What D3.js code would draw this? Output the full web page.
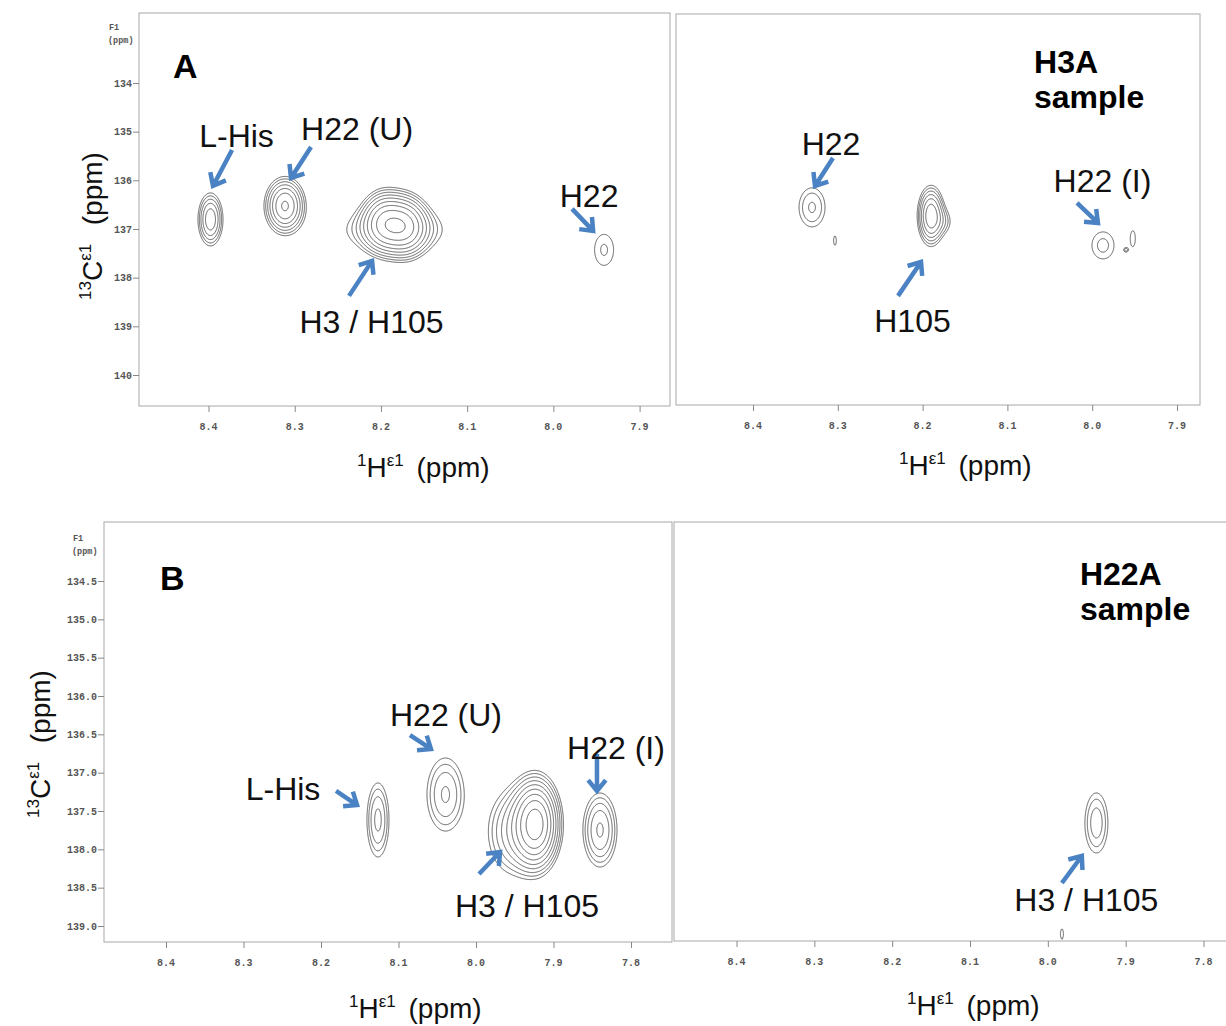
<!DOCTYPE html>
<html>
<head>
<meta charset="utf-8">
<script src="https://cdn.jsdelivr.net/npm/d3@7"></script>
<style>
html,body{margin:0;padding:0;background:#fff;}
svg{display:block;}
</style>
</head>
<body>
<svg id="chart" width="1226" height="1026"></svg>
<script>
// ---------------- DATA ----------------
// Tick labels
const xTicksA = [8.4, 8.3, 8.2, 8.1, 8.0, 7.9];
const yTicksA = [134, 135, 136, 137, 138, 139, 140];
const xTicksB = [8.4, 8.3, 8.2, 8.1, 8.0, 7.9, 7.8];
const yTicksB = [134.5, 135.0, 135.5, 136.0, 136.5, 137.0, 137.5, 138.0, 138.5, 139.0];

// Contour levels (geometric series, factor 1.3)
const contourFactor = 1.3;
const contourLevelCount = 14;

// Peaks: [1H ppm, 13C ppm, sigma 1H (ppm), sigma 13C (ppm), relative amplitude]
const peaksA1 = [
  [8.3977, 136.803, 0.00918, 0.3443, 3.486],   // L-His
  [8.3113, 136.526, 0.01356, 0.3372, 5.020],   // H22 (U)
  [8.1964, 136.854, 0.01508, 0.3696, 5.000],   // H3 / H105 component 1
  [8.1709, 136.936, 0.01508, 0.3696, 5.000],   // H3 / H105 component 2
  [8.1848, 137.018, 0.04408, 0.3285, 2.000],   // H3 / H105 shoulder
  [7.9412, 137.429, 0.01419, 0.4097, 1.352]    // H22
];
const peaksA2 = [
  [8.3304, 136.556, 0.01443, 0.3770, 1.758],   // H22
  [8.1901, 136.731, 0.00934, 0.3602, 4.600],   // H105
  [8.1724, 136.854, 0.00825, 0.2050, 0.900],   // H105 shoulder
  [7.9873, 137.337, 0.01551, 0.3314, 1.419],   // H22 (I)
  [8.3033, 137.244, 0.00236, 0.1355, 1.200],   // noise
  [7.9519, 137.193, 0.00389, 0.2218, 1.200],   // noise
  [7.9601, 137.429, 0.00236, 0.0410, 1.200]    // noise
];
const peaksB1 = [
  [8.1265, 137.617, 0.01079, 0.3668, 2.377],   // L-His
  [8.0394, 137.285, 0.01857, 0.3703, 2.285],   // H22 (U)
  [7.9226, 137.669, 0.01677, 0.3261, 9.070],   // H3 / H105 main
  [7.9561, 137.774, 0.02194, 0.3913, 2.200],   // H3 / H105 shoulder
  [7.8400, 137.748, 0.01486, 0.3270, 2.971]    // H22 (I)
];
const peaksB2 = [
  [7.9376, 137.656, 0.01248, 0.3308, 2.013],   // H3 / H105
  [7.9819, 139.104, 0.00321, 0.1080, 1.200]    // noise
];

// Arrows: [tail 1H, tail 13C, head 1H, head 13C]
const arrowsA1 = [
  [8.3727, 135.376, 8.3948, 136.115],
  [8.2811, 135.314, 8.3043, 135.951],
  [8.2370, 138.374, 8.2103, 137.655],
  [7.9783, 136.587, 7.9539, 137.039]
];
const arrowsA2 = [
  [8.3057, 135.540, 8.3269, 136.115],
  [8.2290, 138.374, 8.2019, 137.676],
  [8.0179, 136.464, 7.9932, 136.875]
];
const arrowsB1 = [
  [8.0852, 136.509, 8.0581, 136.691],
  [8.1806, 137.239, 8.1535, 137.422],
  [7.8439, 136.756, 7.8439, 137.239],
  [7.9961, 138.322, 7.9690, 138.035]
];
const arrowsB2 = [
  [7.9819, 138.439, 7.9563, 138.087]
];

// Peak labels: [text, 1H, 13C]
const labelsA1 = [
  ["L-His", 8.3675, 135.314],
  ["H22 (U)", 8.2277, 135.170],
  ["H3 / H105", 8.2109, 139.133],
  ["H22", 7.9586, 136.546]
];
const labelsA2 = [
  ["H22", 8.3080, 135.478],
  ["H105", 8.2119, 139.113],
  ["H22 (I)", 7.9879, 136.238]
];
const labelsB1 = [
  ["H22 (U)", 8.0387, 136.391],
  ["L-His", 8.2490, 137.356],
  ["H22 (I)", 7.8194, 136.822],
  ["H3 / H105", 7.9342, 138.882]
];
const labelsB2 = [
  ["H3 / H105", 7.9505, 138.804]
];

// Panel titles (bold): [text, 1H, 13C]
const titlesA1 = [["A", 8.4412, 133.897]];
const titlesA2 = [["H3A", 8.0686, 133.795], ["sample", 8.0686, 134.513]];
const titlesB1 = [["B", 8.4077, 134.617]];
const titlesB2 = [["H22A", 7.9588, 134.552], ["sample", 7.9588, 135.009]];

// ---------------- LAYOUT ----------------
const panels = [
  { frame: [139, 13, 670, 406], xd: [8.4, 7.9], xr: [208.5, 639.6], yd: [134, 140], yr: [83, 375],
    peaks: peaksA1, arrows: arrowsA1, labels: labelsA1, titles: titlesA1,
    xTicks: xTicksA, yTicks: yTicksA, yAxis: true, yFmt: d3.format("d"), xMinor: 0.02, yMinor: 0.2,
    xTitle: [357, 477], yTitle: [102, 300], f1: [108, 30], tickLabelY: 430 },
  { frame: [676, 14, 1200, 405], xd: [8.4, 7.9], xr: [753, 1177], yd: [134, 140], yr: [83, 375],
    peaks: peaksA2, arrows: arrowsA2, labels: labelsA2, titles: titlesA2,
    xTicks: xTicksA, yTicks: [], yAxis: false, xMinor: 0.02, yMinor: 0.2,
    xTitle: [899, 475], tickLabelY: 429 },
  { frame: [104, 522, 672, 942], xd: [8.4, 7.8], xr: [166, 631], yd: [134.5, 139.0], yr: [581, 926],
    peaks: peaksB1, arrows: arrowsB1, labels: labelsB1, titles: titlesB1,
    xTicks: xTicksB, yTicks: yTicksB, yAxis: true, yFmt: d3.format(".1f"), xMinor: 0.02, yMinor: 0.1,
    xTitle: [349, 1018], yTitle: [50, 818], f1: [72, 541], tickLabelY: 966 },
  { frame: [674, 522, 1240, 941], xd: [8.4, 7.8], xr: [736.5, 1203.5], yd: [134.5, 139.0], yr: [581, 926],
    peaks: peaksB2, arrows: arrowsB2, labels: labelsB2, titles: titlesB2,
    xTicks: xTicksB, yTicks: [], yAxis: false, xMinor: 0.02, yMinor: 0.1,
    xTitle: [907, 1015], tickLabelY: 965 }
];

const svg = d3.select("#chart");
const thresholds = d3.range(contourLevelCount).map(k => Math.pow(contourFactor, k));
const arrowColor = "#4a82c3";
const tickFont = "'Liberation Mono', 'DejaVu Sans Mono', monospace";
const textFont = "'Liberation Sans', Arial, sans-serif";

panels.forEach(p => {
  const [fx0, fy0, fx1, fy1] = p.frame;
  const x = d3.scaleLinear().domain(p.xd).range(p.xr);
  const y = d3.scaleLinear().domain(p.yd).range(p.yr);
  const g = svg.append("g");

  // ---- contours ----
  const step = 1;
  const nx = Math.ceil((fx1 - fx0) / step), ny = Math.ceil((fy1 - fy0 - 2) / step);
  const vals = new Float64Array(nx * ny);
  for (let j = 0; j < ny; j++) {
    const c = y.invert(fy0 + (j + 0.5) * step);
    for (let i = 0; i < nx; i++) {
      const h = x.invert(fx0 + (i + 0.5) * step);
      let v = 0;
      for (const pk of p.peaks) {
        const dh = (h - pk[0]) / pk[2], dc = (c - pk[1]) / pk[3];
        const e = dh * dh + dc * dc;
        if (e < 60) v += pk[4] * Math.exp(-0.5 * e);
      }
      vals[j * nx + i] = v;
    }
  }
  const contours = d3.contours().size([nx, ny]).thresholds(thresholds)(vals);
  const path = d3.geoPath(d3.geoIdentity().scale(step).translate([fx0, fy0]));
  g.append("g").selectAll("path").data(contours).join("path")
    .attr("d", path).attr("fill", "none").attr("stroke", "#474747")
    .attr("stroke-width", 0.85).attr("stroke-linejoin", "round");

  // ---- frame ----
  g.append("rect").attr("x", fx0).attr("y", fy0).attr("width", fx1 - fx0).attr("height", fy1 - fy0)
    .attr("fill", "none").attr("stroke", "#a8a8a8").attr("stroke-width", 1);

  // ---- x axis ----
  const xa = g.append("g").attr("transform", `translate(0,${fy1})`);
  const xlo = Math.min(x.invert(fx0), x.invert(fx1)), xhi = Math.max(x.invert(fx0), x.invert(fx1));
  const xMinorVals = d3.range(Math.ceil(xlo / p.xMinor) * p.xMinor, xhi, p.xMinor);
  xa.call(d3.axisBottom(x).tickValues(xMinorVals).tickSize(4).tickFormat(""))
    .call(s => s.select(".domain").remove());
  xa.call(d3.axisBottom(x).tickValues(p.xTicks).tickSize(6).tickFormat(""))
    .call(s => s.select(".domain").remove());
  xa.selectAll("line").attr("stroke", "#888");
  g.append("g").selectAll("text").data(p.xTicks).join("text")
    .attr("x", d => x(d)).attr("y", p.tickLabelY).attr("text-anchor", "middle")
    .attr("font-family", tickFont).attr("font-size", 10).attr("font-weight", "bold")
    .attr("fill", "#555").text(d3.format(".1f"));

  // ---- y axis ----
  if (p.yAxis) {
    const ya = g.append("g").attr("transform", `translate(${fx0},0)`);
    const ylo = y.invert(fy0), yhi = y.invert(fy1);
    const yMinorVals = d3.range(Math.ceil(ylo / p.yMinor - 1e-6) * p.yMinor, yhi, p.yMinor);
    ya.call(d3.axisLeft(y).tickValues(yMinorVals).tickSize(4).tickFormat(""))
      .call(s => s.select(".domain").remove());
    ya.call(d3.axisLeft(y).tickValues(p.yTicks).tickSize(6).tickFormat(""))
      .call(s => s.select(".domain").remove());
    ya.selectAll("line").attr("stroke", "#888");
    g.append("g").selectAll("text").data(p.yTicks).join("text")
      .attr("x", fx0 - 7).attr("y", d => y(d) + 3.5).attr("text-anchor", "end")
      .attr("font-family", tickFont).attr("font-size", 10).attr("font-weight", "bold")
      .attr("fill", "#555").text(p.yFmt);
    // F1 (ppm)
    const f = g.append("g").attr("font-family", tickFont).attr("font-size", 8.5)
      .attr("font-weight", "bold").attr("fill", "#555");
    f.append("text").attr("x", p.f1[0] + 1).attr("y", p.f1[1]).text("F1");
    f.append("text").attr("x", p.f1[0]).attr("y", p.f1[1] + 13).text("(ppm)");
  }

  // ---- arrows ----
  g.append("g").selectAll("path").data(p.arrows).join("path")
    .attr("d", a => {
      const tx = x(a[0]), ty = y(a[1]), hx = x(a[2]), hy = y(a[3]);
      const ang = Math.atan2(hy - ty, hx - tx);
      const L = 14, w = 0.68;
      const p1 = [hx - L * Math.cos(ang - w), hy - L * Math.sin(ang - w)];
      const p2 = [hx - L * Math.cos(ang + w), hy - L * Math.sin(ang + w)];
      return `M${tx},${ty}L${hx},${hy}M${p1[0]},${p1[1]}L${hx},${hy}L${p2[0]},${p2[1]}`;
    })
    .attr("fill", "none").attr("stroke", arrowColor).attr("stroke-width", 4.5)
    .attr("stroke-linecap", "butt").attr("stroke-linejoin", "miter");

  // ---- labels ----
  g.append("g").selectAll("text").data(p.labels).join("text")
    .attr("x", d => x(d[1])).attr("y", d => y(d[2])).attr("text-anchor", "middle")
    .attr("font-family", textFont).attr("font-size", 32).attr("fill", "#111").text(d => d[0]);
  g.append("g").selectAll("text").data(p.titles).join("text")
    .attr("x", d => x(d[1])).attr("y", d => y(d[2])).attr("text-anchor", "start")
    .attr("font-family", textFont).attr("font-weight", "bold")
    .attr("font-size", d => d[0].length === 1 ? 34 : 32).attr("fill", "#000").text(d => d[0]);

  // ---- axis titles ----
  const addTitle = (pos, parts, rot) => {
    const t = g.append("text")
      .attr("transform", `translate(${pos[0]},${pos[1]})` + (rot ? " rotate(-90)" : ""))
      .attr("font-family", textFont).attr("font-size", 28).attr("fill", "#111")
      .style("white-space", "pre");
    let prevSup = false;
    parts.forEach(([txt, sup, dx]) => {
      t.append("tspan").text(txt).attr("font-size", sup ? 17 : 28)
        .attr("dx", dx || 0)
        .attr("dy", sup ? (prevSup ? 0 : -11) : (prevSup ? 11 : 0));
      prevSup = sup;
    });
  };
  addTitle(p.xTitle, [["1", true], ["H", false], ["ε1", true], [" (ppm)", false, 5]], false);
  if (p.yTitle) addTitle(p.yTitle, [["13", true], ["C", false], ["ε1", true], ["  (ppm)", false, 3]], true);
});
</script>
</body>
</html>
